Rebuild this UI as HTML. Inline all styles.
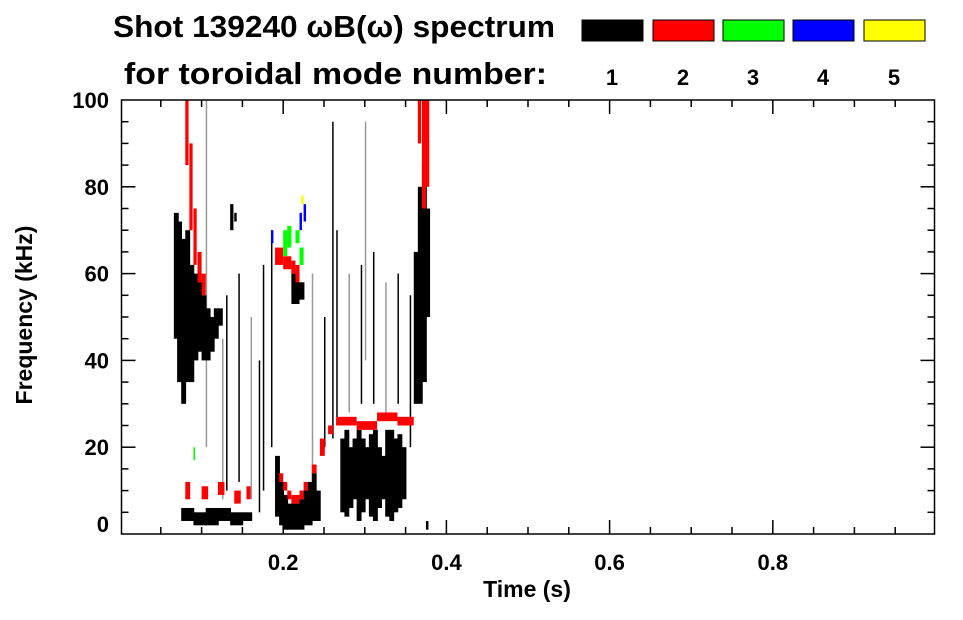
<!DOCTYPE html>
<html><head><meta charset="utf-8"><style>
body{margin:0;background:#fff;}
svg text{font-family:"Liberation Sans",sans-serif;font-weight:bold;fill:#000;}
</style></head><body>
<svg id="chart" width="963" height="615" viewBox="0 0 963 615" xmlns="http://www.w3.org/2000/svg">
<text x="113" y="37" font-size="31" textLength="442" lengthAdjust="spacingAndGlyphs">Shot 139240 ωB(ω) spectrum</text>
<text x="124" y="84" font-size="31" textLength="423" lengthAdjust="spacingAndGlyphs">for toroidal mode number:</text>
<g id="legend"></g>
<g id="marks"></g>
<g id="axes"></g>
<text x="527" y="597" font-size="23" text-anchor="middle">Time (s)</text>
<text transform="translate(32,315) rotate(-90)" font-size="23" text-anchor="middle">Frequency (kHz)</text>
</svg>
<script>
const modeLabels=["1","2","3","4","5"];
const modeColors=["#000000","#ff0000","#00ff00","#0000ff","#ffff00"];
const xTicks=[0.2,0.4,0.6,0.8];
const yTicks=[0,20,40,60,80,100];
const segT=[0.066,0.07,0.075,0.08,0.085,0.09,0.095,0.1,0.105,0.11,0.115,0.12,
0.075,0.09,0.105,0.12,0.135,0.15,
0.19,0.195,0.2,0.205,0.21,0.215,0.22,0.225,0.23,0.235,0.24,
0.27,0.275,0.28,0.285,0.29,0.295,0.3,0.305,0.31,0.315,0.32,0.325,0.33,0.335,0.34,0.345,
0.36,0.365,0.37,0.375,0.21,0.22,0.135,0.14,0.375];
const segW=[0.006,0.006,0.006,0.006,0.006,0.006,0.006,0.006,0.006,0.006,0.006,0.006,
0.016,0.016,0.016,0.016,0.016,0.012,
0.006,0.006,0.006,0.006,0.006,0.006,0.006,0.006,0.006,0.006,0.006,
0.006,0.006,0.006,0.006,0.006,0.006,0.006,0.006,0.006,0.006,0.006,0.006,0.006,0.006,0.006,0.006,
0.006,0.006,0.006,0.005,0.01,0.006,0.004,0.003,0.003];
const segLo=[45,35,30,35,35,40,42,40,40,42,45,48, 3,2,2,3,2,3,
4,2,1,1,1,1,1,2,2,3,3,
5,4,6,8,3,5,8,4,3,6,8,4,3,5,6,8,
30,30,35,50,53,54,70,72,1];
const segHi=[74,72,68,70,62,60,58,55,52,50,52,52, 6,5,6,6,5,5,
18,12,9,7,7,7,8,10,12,14,10,
22,24,20,22,24,22,20,23,24,20,18,24,24,22,23,20,
65,80,85,75,60,58,76,74,3];
const segMode=[0,0,0,0,0,0,0,0,0,0,0,0, 0,0,0,0,0,0,
0,0,0,0,0,0,0,0,0,0,0,
0,0,0,0,0,0,0,0,0,0,0,0,0,0,0,0,
0,0,0,0,0,0,0,0,0];
const cT=[0.08,0.085,0.09,0.095,0.1,0.19,0.2,0.21,0.215,
0.195,0.2,0.205,0.21,0.215,0.22,0.225,0.235,0.245,0.255,
0.265,0.29,0.315,0.34,0.365,0.37,0.375,
0.08,0.1,0.12,0.14,0.155,
0.2,0.205,0.215,0.22,0.185,0.22,0.225,0.222,0.09];
const cW=[0.004,0.004,0.004,0.005,0.005,0.01,0.01,0.005,0.005,
0.005,0.005,0.005,0.005,0.005,0.005,0.005,0.006,0.006,0.006,
0.025,0.025,0.025,0.02,0.004,0.005,0.004,
0.006,0.008,0.008,0.008,0.005,
0.005,0.005,0.005,0.005,0.003,0.003,0.003,0.003,0.002];
const cLo=[85,70,62,58,55,62,61,60,58,
12,10,8,7,7,8,10,14,18,23,
25,24,26,25,90,75,80,
8,8,9,7,8,
64,66,67,62,67,70,72,76,17];
const cHi=[100,90,75,65,60,66,64,63,62,
14,12,10,9,9,10,12,16,22,25,
27,26,28,27,100,100,100,
12,11,12,10,11,
70,71,70,66,70,74,76,78,20];
const cMode=[1,1,1,1,1,1,1,1,1,
1,1,1,1,1,1,1,1,1,1,
1,1,1,1,1,1,1,
1,1,1,1,1,
2,2,2,2,3,3,3,4,2];
const lineT=[0.105,0.13,0.145,0.16,0.175,0.185,0.235,0.25,0.265,0.28,0.295,0.31,0.325,0.34,0.355,0.125,0.17,0.26,0.3];
const lineLo=[20,10,12,8,10,20,15,20,25,28,30,30,28,30,20,8,5,22,40];
const lineHi=[100,55,60,50,62,70,60,50,70,60,62,65,58,60,55,45,40,95,95];
const lineMode=[0,0,0,0,0,0,0,0,0,0,0,0,0,0,0,0,0,0,0];

const X0=120,X1=936,Y0=534,Y1=100;
const xs=t=>X0+t*(X1-X0);
const ys=f=>Y0-f/100*(Y0-Y1);
const NS="http://www.w3.org/2000/svg";
const marks=document.getElementById('marks');
const axes=document.getElementById('axes');
const legend=document.getElementById('legend');
function mk(tag,attrs,parent){const e=document.createElementNS(NS,tag);for(const k in attrs)e.setAttribute(k,attrs[k]);parent.appendChild(e);return e;}

const lx=[582,653,723,793,864];
modeLabels.forEach((m,i)=>{
  const r=mk('rect',{x:lx[i],y:20,width:61,height:21,fill:modeColors[i],stroke:'#000','stroke-width':1},legend);
  
  
  const t=mk('text',{x:lx[i]+30,y:85,'font-size':22,'text-anchor':'middle'},legend);
  t.textContent=m;
  
  
});

lineT.forEach((t,i)=>{
  const l=mk('rect',{x:xs(t),y:ys(lineHi[i]),width:1.5,height:ys(lineLo[i])-ys(lineHi[i]),fill:i%3==0?'#999':modeColors[lineMode[i]]},marks);
  
  
});
segT.forEach((t,i)=>{
  const r=mk('rect',{x:xs(t),y:ys(segHi[i]),width:segW[i]*(X1-X0),height:ys(segLo[i])-ys(segHi[i]),fill:modeColors[segMode[i]]},marks);
  
  
});
cT.forEach((t,i)=>{
  const r=mk('rect',{x:xs(t),y:ys(cHi[i]),width:cW[i]*(X1-X0),height:ys(cLo[i])-ys(cHi[i]),fill:modeColors[cMode[i]]},marks);
  
  
});

const fr=mk('rect',{x:X0+1.5,y:Y1,width:X1-X0-3,height:Y0-Y1,fill:'none',stroke:'#000','stroke-width':1.5},axes);


for(let k=1;k<20;k++){
  const t=k*0.05,x=xs(t),major=(k%4==0);
  const len=major?14:7;
  mk('line',{x1:x,x2:x,y1:Y0,y2:Y0-len,stroke:'#000','stroke-width':1.5},axes);
  mk('line',{x1:x,x2:x,y1:Y1,y2:Y1+len,stroke:'#000','stroke-width':1.5},axes);
}
xTicks.forEach(v=>{
  const t=mk('text',{x:xs(v),y:570,'font-size':22,'text-anchor':'middle'},axes);
  t.textContent=v.toFixed(1);
  
  
});
for(let k=1;k<20;k++){
  const f=k*5,y=ys(f),major=(k%4==0);
  const len=major?14:7;
  mk('line',{x1:X0+1.5,x2:X0+1.5+len,y1:y,y2:y,stroke:'#000','stroke-width':1.5},axes);
  mk('line',{x1:X1-1.5,x2:X1-1.5-len,y1:y,y2:y,stroke:'#000','stroke-width':1.5},axes);
}
yTicks.forEach(v=>{
  const t=mk('text',{x:109,y:Math.min(ys(v)+8,532),'font-size':22,'text-anchor':'end'},axes);
  t.textContent=v;
  
  
});
</script>
</body></html>
